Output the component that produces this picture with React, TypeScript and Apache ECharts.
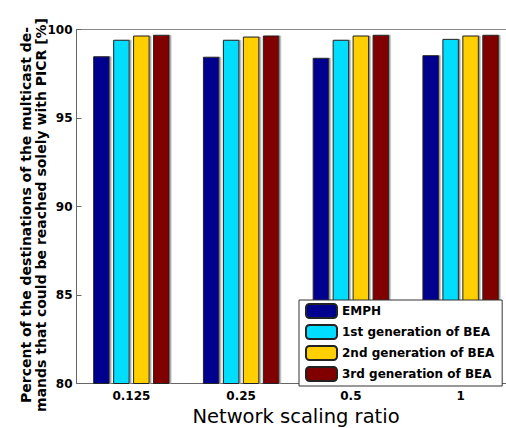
import React, { useEffect, useRef } from "react";
import * as echarts from "echarts";

const categories = ["0.125", "0.25", "0.5", "1"];
const seriesNames = ["EMPH", "1st generation of BEA", "2nd generation of BEA", "3rd generation of BEA"];
const emph = [98.49, 98.46, 98.4, 98.55];
const bea1 = [99.42, 99.42, 99.42, 99.47];
const bea2 = [99.66, 99.6, 99.66, 99.66];
const bea3 = [99.7, 99.66, 99.7, 99.7];
const colors = ["#00008F", "#00DDFF", "#FFCF00", "#800000"];
const yTicks = [80, 85, 90, 95, 100];

export default function App() {
  const ref = useRef<HTMLDivElement>(null);
  useEffect(() => {
    if (!ref.current) return;
    const chart = echarts.init(ref.current, undefined, { renderer: "svg" });
    const data = [emph, bea1, bea2, bea3];
    const font = "DejaVu Sans, Verdana, sans-serif";
    chart.setOption({
      animation: false,
      backgroundColor: "#ffffff",
      textStyle: { fontFamily: font },
      grid: {
        left: 76.5,
        top: 29.5,
        width: 439,
        height: 354,
        containLabel: false,
        outerBoundsMode: "none",
      },
      legend: {
        orient: "vertical",
        left: 299,
        top: 300,
        itemWidth: 31,
        itemHeight: 14,
        itemGap: 5,
        padding: [3, 8, 4, 6],
        backgroundColor: "#ffffff",
        borderColor: "#333",
        borderWidth: 1,
        textStyle: { fontFamily: font, fontWeight: "bold", fontSize: 12, color: "#000" },
        data: seriesNames,
      },
      xAxis: [
        {
          type: "category",
          data: categories,
          position: "bottom",
          axisLine: { lineStyle: { color: "#666" } },
          axisTick: { inside: true, alignWithLabel: true, length: 5, lineStyle: { color: "#888" } },
          axisLabel: { fontFamily: font, fontWeight: "bold", fontSize: 12, color: "#000", margin: 6 },
          name: "Network scaling ratio",
          nameLocation: "middle",
          nameGap: 11,
          nameTextStyle: { fontFamily: font, fontSize: 19.5, color: "#000" },
        },
        {
          type: "category",
          data: categories,
          position: "top",
          axisLine: { lineStyle: { color: "#888" } },
          axisTick: { inside: true, alignWithLabel: true, length: 5, lineStyle: { color: "#666" } },
          axisLabel: { show: false },
        },
      ],
      yAxis: [
        {
          type: "value",
          min: 80,
          max: 100,
          interval: 5,
          axisLine: { show: true, lineStyle: { color: "#666" } },
          axisTick: { show: true, inside: true, length: 5, lineStyle: { color: "#666" } },
          splitLine: { show: false },
          axisLabel: {
            fontFamily: font,
            fontWeight: "bold",
            fontSize: 12,
            color: "#000",
            margin: 4,
            formatter: (v: number) => (yTicks.includes(v) ? String(v) : ""),
          },
        },
      ],
      graphic: [
        {
          type: "text",
          x: 33.5,
          y: 215,
          rotation: Math.PI / 2,
          style: {
            text: "Percent of the destinations of the multicast de-\nmands that could be reached solely with PICR [%]",
            font: "bold 14px " + font,
            fill: "#000",
            align: "center",
            verticalAlign: "middle",
            lineHeight: 15.5,
          },
        },
      ],
      series: data.map((d, i) => ({
        name: seriesNames[i],
        type: "bar",
        data: d,
        barWidth: 16.5,
        barGap: "21%",
        itemStyle: {
          color: colors[i],
          borderColor: "#222",
          borderWidth: 1,
          shadowColor: "#999",
          shadowOffsetX: 1.5,
          shadowBlur: 0,
        },
      })),
    });
    return () => chart.dispose();
  }, []);
  return <div ref={ref} style={{ position: "fixed", left: 0, top: 0, width: 506, height: 428 }} />;
}
